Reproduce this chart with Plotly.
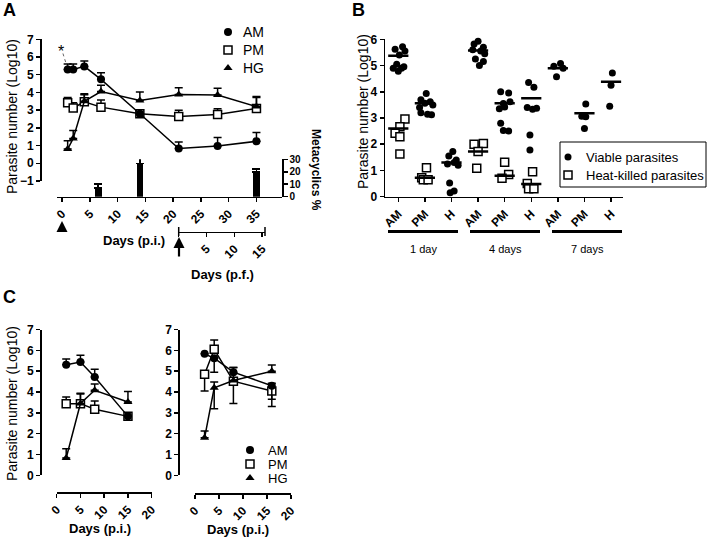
import plotly.graph_objects as go

W, H = 707, 538


def px(x):
    return x / W


def py(y):
    return 1 - y / H


FONT = "Liberation Sans"

# ---------------- Panel A data ----------------
days_A = [1, 2, 4, 7, 14, 21, 28, 35]
AM_A = [5.3, 5.3, 5.47, 4.74, 2.8, 0.83, 0.97, 1.24]
AM_A_err = [0.3, 0.3, 0.3, 0.37, 0.0, 0.37, 0.48, 0.5]
PM_A = [3.42, 3.12, 3.47, 3.17, 2.8, 2.64, 2.75, 3.1]
PM_A_err = [0.3, 0.3, 0.4, 0.4, 0.0, 0.35, 0.33, 0.62]
HG_A = [0.8, 1.4, 3.5, 4.05, 3.55, 3.88, 3.86, 3.2]
HG_A_err = [0.47, 0.45, 0.42, 0.35, 0.47, 0.38, 0.37, 0.57]
meta_days = [6.5, 14, 35]
meta_pct = [7, 26.5, 20]
meta_err = [3.3, 4.5, 2.3]
pi_ticks = [0, 5, 10, 15, 20, 25, 30, 35]
pf_ticks = [0, 5, 10, 15]
pf_labels = ["", "5", "10", "15"]
meta_ticks = [0, 10, 20, 30]

# ---------------- Panel B data ----------------
b_labels = ["AM", "PM", "H", "AM", "PM", "H", "AM", "PM", "H"]
group_labels = ["1 day", "4 days", "7 days"]
viable_vals = [
    [5.62, 5.72, 5.55, 5.4, 5.05, 4.9, 4.9, 4.78, 4.95],
    [3.93, 3.7, 3.62, 3.56, 3.5, 3.4, 3.2, 3.14, 3.12],
    [1.72, 1.55, 1.4, 1.3, 1.25, 1.2, 0.52, 0.22, 0.15],
    [5.93, 5.82, 5.7, 5.6, 5.55, 5.45, 5.25, 5.15, 5.0],
    [4.0, 3.95, 3.62, 3.55, 3.42, 3.35, 2.8, 2.52, 2.5],
    [4.35, 4.17, 3.4, 3.37, 3.33, 2.35, 1.78],
    [5.08, 4.97, 4.9, 4.57],
    [3.53, 3.07, 3.05, 2.6],
    [4.72, 4.25, 3.45],
]
viable_offs = [
    [-0.12, 0.16, 0.25, 0.04, -0.06, -0.19, 0.12, 0.0, 0.21],
    [0.05, -0.15, 0.2, 0.0, 0.3, -0.2, -0.15, 0.1, 0.25],
    [0.05, -0.1, 0.18, 0.1, -0.15, 0.25, -0.07, 0.1, -0.05],
    [0.0, -0.15, 0.2, -0.2, 0.1, 0.25, -0.1, 0.2, 0.05],
    [-0.15, 0.15, 0.2, -0.05, 0.0, -0.2, -0.15, -0.05, 0.15],
    [-0.1, 0.1, -0.15, 0.2, 0.05, -0.05, -0.05],
    [0.1, -0.15, 0.2, -0.05],
    [0.05, -0.1, 0.05, 0.0],
    [0.05, 0.0, -0.05],
]
viable_center = [5.37, 3.56, 1.3, 5.57, 3.56, 3.75, 4.9, 3.18, 4.38]
hk_vals = [
    [2.96, 2.67, 2.42, 2.29, 1.63],
    [1.1, 0.72, 0.65, 0.65],
    [],
    [2.0, 2.03, 1.72, 1.08],
    [1.31, 0.85, 0.7],
    [0.95, 0.5, 0.3, 0.3],
    [], [], [],
]
hk_offs = [
    [0.25, 0.06, -0.12, 0.06, 0.06],
    [0.06, -0.12, -0.06, 0.12],
    [],
    [-0.15, 0.2, 0.0, -0.05],
    [0.0, 0.15, -0.1],
    [0.05, -0.15, -0.1, 0.1],
    [], [], [],
]
hk_center = [2.6, 0.72, None, 1.72, 0.8, 0.48, None, None, None]
b_legend_names = ["Viable parasites", "Heat-killed parasites"]

# ---------------- Panel C data ----------------
days_C1 = [2, 5, 8, 15]
AM_C1 = [5.31, 5.44, 4.72, 2.83]
AM_C1_err = [0.27, 0.32, 0.37, 0.0]
PM_C1 = [3.44, 3.44, 3.17, 2.83]
PM_C1_err = [0.32, 0.5, 0.4, 0.0]
HG_C1 = [0.83, 3.45, 4.08, 3.52]
HG_C1_err = [0.45, 0.45, 0.3, 0.5]

days_C2 = [2, 4, 8, 16]
AM_C2 = [5.83, 5.62, 4.95, 4.3]
AM_C2_plus = [0.0, 0.0, 0.22, 0.12]
AM_C2_minus = [0.0, 0.67, 0.0, 0.65]
PM_C2 = [4.85, 6.05, 4.52, 4.05]
PM_C2_plus = [0.0, 0.45, 0.65, 0.0]
PM_C2_minus = [0.8, 0.0, 1.07, 0.75]
HG_C2 = [1.8, 4.2, 4.55, 5.0]
HG_C2_plus = [0.33, 0.28, 0.0, 0.3]
HG_C2_minus = [0.0, 1.0, 0.0, 0.0]
c_ticks = [0, 5, 10, 15, 20]

series_names = ["AM", "PM", "HG"]

# ---------------- styles ----------------
BLACK = "black"
MK = {
    "AM": dict(symbol="circle", size=8, color=BLACK),
    "PM": dict(symbol="square", size=8, color="white", line=dict(color=BLACK, width=1.5)),
    "HG": dict(symbol="triangle-up", size=8, color=BLACK),
}
MK_B = [dict(symbol="circle", size=7, color=BLACK),
        dict(symbol="square", size=8, color="white", line=dict(color=BLACK, width=1.5))]
tickfont = dict(family=FONT, size=12, color=BLACK, weight="bold")
axstyle = dict(showline=True, linecolor=BLACK, linewidth=1.5, ticks="outside",
               ticklen=4, tickwidth=1.5, tickcolor=BLACK, showgrid=False,
               zeroline=False, tickfont=tickfont, fixedrange=True)

fig = go.Figure()


def err(plus, minus=None):
    return dict(type="data", array=plus,
                arrayminus=minus if minus is not None else [0] * len(plus),
                symmetric=False, width=4, thickness=1.5, color=BLACK)


def series(xs, ys, name, xa, ya, plus, minus=None):
    fig.add_trace(go.Scatter(x=xs, y=ys, mode="lines+markers", name=name,
                             xaxis=xa, yaxis=ya, showlegend=False,
                             line=dict(color=BLACK, width=1.5),
                             marker=MK[name], error_y=err(plus, minus),
                             cliponaxis=False))


# Panel A
fig.add_trace(go.Bar(x=meta_days, y=meta_pct, xaxis="x", yaxis="y2", width=1.2,
                     marker=dict(color=BLACK, line=dict(width=0)), showlegend=False,
                     error_y=err(meta_err)))
series(days_A, PM_A, "PM", "x", "y", PM_A_err)
series(days_A, AM_A, "AM", "x", "y", AM_A_err)
series(days_A, HG_A, "HG", "x", "y", HG_A_err)
# p.f. axis carrier
fig.add_trace(go.Scatter(x=[0], y=[None], xaxis="x3", yaxis="y", showlegend=False,
                         mode="markers"))

# Panel B
for i in range(len(b_labels)):
    fig.add_trace(go.Scatter(x=[i + o for o in viable_offs[i]], y=viable_vals[i],
                             xaxis="x4", yaxis="y4", mode="markers", showlegend=False,
                             marker=MK_B[0], cliponaxis=False))
    if hk_vals[i]:
        fig.add_trace(go.Scatter(x=[i + o for o in hk_offs[i]], y=hk_vals[i],
                                 xaxis="x4", yaxis="y4", mode="markers", showlegend=False,
                                 marker=MK_B[1], cliponaxis=False))
cx, cy = [], []
for i, c in enumerate(viable_center):
    cx += [i - 0.38, i + 0.38, None]
    cy += [c, c, None]
for i, c in enumerate(hk_center):
    if c is not None:
        cx += [i - 0.38, i + 0.38, None]
        cy += [c, c, None]
fig.add_trace(go.Scatter(x=cx, y=cy, xaxis="x4", yaxis="y4", mode="lines",
                         line=dict(color=BLACK, width=2.5), showlegend=False))

# Panel C
series(days_C1, PM_C1, "PM", "x5", "y5", PM_C1_err)
series(days_C1, AM_C1, "AM", "x5", "y5", AM_C1_err)
series(days_C1, HG_C1, "HG", "x5", "y5", HG_C1_err)
series(days_C2, PM_C2, "PM", "x6", "y6", PM_C2_plus, PM_C2_minus)
series(days_C2, AM_C2, "AM", "x6", "y6", AM_C2_plus, AM_C2_minus)
series(days_C2, HG_C2, "HG", "x6", "y6", HG_C2_plus, HG_C2_minus)

# ---------------- hand-built legends on a pixel overlay axis ----------------
ann = []


def text(x, y, s, size=12, bold=False, angle=0, xanchor="center"):
    ann.append(dict(x=px(x), y=py(y), xref="paper", yref="paper", text=s,
                    showarrow=False, textangle=angle, xanchor=xanchor, yanchor="middle",
                    font=dict(family=FONT, size=size, color=BLACK,
                              weight="bold" if bold else "normal")))


def legend(names, markers, mx, y0, dy, tx, size):
    for k, (n, m) in enumerate(zip(names, markers)):
        fig.add_trace(go.Scatter(x=[mx], y=[y0 + k * dy], xaxis="x7", yaxis="y7",
                                 mode="markers", marker=m, showlegend=False,
                                 hoverinfo="skip", cliponaxis=False))
        text(tx, y0 + k * dy, n, size, xanchor="left")


legend(series_names, [MK[n] for n in series_names], 228, 32, 18, 241, 14)
legend(series_names, [MK[n] for n in series_names], 250, 450, 14, 266, 13)
legend(b_legend_names, MK_B, 568, 157, 18, 584, 13)

layout = dict(
    width=W, height=H, autosize=False,
    margin=dict(l=0, r=0, t=0, b=0, pad=0, autoexpand=False),
    paper_bgcolor="white", plot_bgcolor="rgba(0,0,0,0)",
    font=dict(family=FONT, color=BLACK),
    bargap=0, showlegend=False,
)
# Panel A axes
layout["xaxis"] = dict(axstyle, domain=[px(57), px(282)], range=[-0.92, 39.6],
                       anchor="free", position=py(196.7), tickvals=pi_ticks, tickangle=-45)
layout["yaxis"] = dict(axstyle, domain=[py(181), py(39.3)], range=[-1, 7], dtick=1,
                       anchor="free", position=px(40))
layout["yaxis2"] = dict(axstyle, domain=[py(196.7), py(159.3)], range=[0, 30],
                        tickvals=meta_ticks, anchor="free", position=px(282), side="right",
                        tickfont=dict(tickfont, size=10))
layout["xaxis3"] = dict(axstyle, domain=[px(178.7), px(265)], range=[0, 15.5],
                        anchor="free", position=py(231.7), tickvals=pf_ticks,
                        ticktext=pf_labels, tickangle=-45)
# Panel B axes
layout["xaxis4"] = dict(axstyle, domain=[px(385), px(623)], range=[-0.5, 8.45],
                        anchor="y4", tickvals=list(range(len(b_labels))),
                        ticktext=b_labels, tickangle=-45)
layout["yaxis4"] = dict(axstyle, domain=[py(196.7), py(39.3)], range=[0, 6], dtick=1,
                        anchor="x4")
# Panel C axes
layout["xaxis5"] = dict(axstyle, domain=[px(56.7), px(151.7)], range=[0, 20],
                        anchor="free", position=py(492.3), tickvals=c_ticks, tickangle=-45)
layout["yaxis5"] = dict(axstyle, domain=[py(475.3), py(329.5)], range=[0, 7], dtick=1,
                        anchor="free", position=px(40))
layout["xaxis6"] = dict(axstyle, domain=[px(195), px(291)], range=[0, 20],
                        anchor="free", position=py(493.3), tickvals=c_ticks, tickangle=-45)
layout["yaxis6"] = dict(axstyle, domain=[py(475.3), py(329.5)], range=[0, 7], dtick=1,
                        anchor="free", position=px(178.3))
# pixel overlay axis for legends
layout["xaxis7"] = dict(domain=[0, 1], range=[0, W], visible=False, anchor="y7",
                        fixedrange=True)
layout["yaxis7"] = dict(domain=[0, 1], range=[H, 0], visible=False, anchor="x7",
                        fixedrange=True)

text(9, 10, "A", 18, True)
text(358, 10, "B", 18, True)
text(9, 297, "C", 18, True)
text(12, 117, "Parasite number (Log10)", 14, angle=-90)
text(363, 112, "Parasite number (Log10)", 14, angle=-90)
text(12, 404, "Parasite number (Log10)", 14, angle=-90)
text(316, 170, "Metacyclics %", 12, True, angle=90)
text(134, 240, "Days (p.i.)", 13, True)
text(222, 274, "Days (p.f.)", 13, True)
text(100, 528, "Days (p.i.)", 13, True)
text(238, 529, "Days (p.i.)", 13, True)
for (x0, x1), g in zip([(388, 458), (470, 540), (552, 622)], group_labels):
    text((x0 + x1) / 2, 249, g, 11)
# star
ann.append(dict(x=-0.2, y=6.3, xref="x", yref="y", text="*", showarrow=False,
                font=dict(family=FONT, size=16, color=BLACK)))
# arrows
for xa, ytip, ytail in [(62, 221, 233), (179, 237, 258)]:
    ann.append(dict(x=px(xa), y=py(ytip), xref="paper", yref="paper", text="",
                    showarrow=True, arrowhead=2, arrowsize=1, arrowwidth=2.2,
                    arrowcolor=BLACK, ax=0, ay=ytail - ytip))
layout["annotations"] = ann

shapes = []
# dashed connector for star
shapes.append(dict(type="line", xref="x", yref="y", x0=0.15, y0=6.2, x1=0.85, y1=5.5,
                   line=dict(color="#666", width=1, dash="dot")))
# p.f. axis end caps
for xx in [178.7, 265]:
    shapes.append(dict(type="line", xref="paper", yref="paper", x0=px(xx), x1=px(xx),
                       y0=py(227), y1=py(236), line=dict(color=BLACK, width=1.5)))
# group bars for panel B
for x0, x1 in [(388, 458), (470, 540), (552, 622)]:
    shapes.append(dict(type="line", xref="paper", yref="paper", x0=px(x0), x1=px(x1),
                       y0=py(231.5), y1=py(231.5), line=dict(color=BLACK, width=3)))
# legend box for panel B
shapes.append(dict(type="rect", xref="paper", yref="paper", x0=px(560), x1=px(706),
                   y0=py(187), y1=py(142), line=dict(color=BLACK, width=1)))
layout["shapes"] = shapes

fig.update_layout(**layout)
fig.write_html("out.html",
               config={"displayModeBar": False, "staticPlot": True},
               post_script="document.body.style.margin='0';"
                           "document.body.style.padding='0';"
                           "document.body.style.overflow='hidden';")
